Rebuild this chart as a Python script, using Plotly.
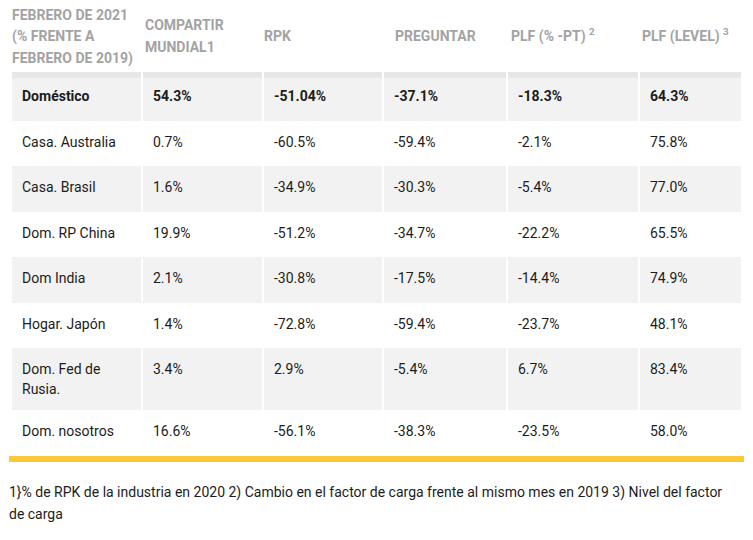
import plotly.graph_objects as go

# Contenido de la tabla (febrero 2021 vs febrero 2019)
columnas = ["FEBRERO DE 2021<br>(% FRENTE A<br>FEBRERO DE 2019)", "COMPARTIR<br>MUNDIAL1", "RPK",
            "PREGUNTAR", "PLF (% -PT) <sup>2</sup>", "PLF (LEVEL) <sup>3</sup>"]
mercados = ["Doméstico", "Casa. Australia", "Casa. Brasil", "Dom. RP China", "Dom India",
            "Hogar. Japón", "Dom. Fed de<br>Rusia.", "Dom. nosotros"]
compartir = ["54.3%", "0.7%", "1.6%", "19.9%", "2.1%", "1.4%", "3.4%", "16.6%"]
rpk = ["-51.04%", "-60.5%", "-34.9%", "-51.2%", "-30.8%", "-72.8%", "2.9%", "-56.1%"]
preguntar = ["-37.1%", "-59.4%", "-30.3%", "-34.7%", "-17.5%", "-59.4%", "-5.4%", "-38.3%"]
plf_pt = ["-18.3%", "-2.1%", "-5.4%", "-22.2%", "-14.4%", "-23.7%", "6.7%", "-23.5%"]
plf_level = ["64.3%", "75.8%", "77.0%", "65.5%", "74.9%", "48.1%", "83.4%", "58.0%"]
nota = ("1}% de RPK de la industria en 2020 2) Cambio en el factor de carga frente al mismo mes "
        "en 2019 3) Nivel del factor<br>de carga")

# layout, in page pixels: the html body keeps an 8px margin, so the
# figure is shrunk by it and the axis ranges start at 8
W, H, BODY = 753, 540, 8
col_edges = [11, 142, 263, 383, 507, 639, 742]
header_x = [12, 145, 264, 395, 511, 642]
PAD = 11
HEAD_MID, HEAD_LINE = 37.5, 21.5
BAND_TOP, BAND_H = 72, 6
ROW0, ROW_H, EXTRA_LINE, TEXT_OFF, LINE_H = 75, 45.5, 16, 22.5, 20
FOOT_X, FOOT_Y, FOOT_LINE = 9, 492, 22
FONT = "Roboto"
GRIS, NEGRO, AMARILLO = "#a3a3a3", "#1c1c1c", "#fbc935"

cuerpo = [mercados, compartir, rpk, preguntar, plf_pt, plf_level]

# row tops, taller row where the label wraps
nlines = [m.count("<br>") + 1 for m in mercados]
tops = []
t = ROW0
for n in nlines:
    tops.append(t)
    t += ROW_H + (n - 1) * EXTRA_LINE
bottom = t

fig = go.Figure()

# row backgrounds (band on top + zebra rows), white gaps between columns
y_edges = [BAND_TOP, BAND_TOP + BAND_H] + tops[1:] + [bottom]
z = [[2] * len(cuerpo)] + [[1 if i % 2 == 0 else 0] * len(cuerpo) for i in range(len(mercados))]
fig.add_trace(go.Heatmap(x=col_edges, y=y_edges, z=z, zmin=0, zmax=2,
                         colorscale=[[0, "#ffffff"], [0.5, "#f2f2f2"], [1, "#e7e7e7"]],
                         showscale=False, xgap=2, hoverinfo="skip"))

# header text, vertically centred
hx, hy, ht = [], [], []
for c, txt in enumerate(columnas):
    parts = txt.split("<br>")
    for j, p in enumerate(parts):
        hx.append(header_x[c])
        hy.append(HEAD_MID + (j - (len(parts) - 1) / 2) * HEAD_LINE)
        ht.append(p)
fig.add_trace(go.Scatter(x=hx, y=hy, text=ht, mode="text", textposition="middle right",
                         textfont=dict(family=FONT, size=14, color=GRIS, weight="bold"),
                         hoverinfo="skip", cliponaxis=False))

# body text: first row bold, the rest regular
def celdas(filas):
    xs, ys, ts = [], [], []
    for i in filas:
        for c, col in enumerate(cuerpo):
            for j, p in enumerate(col[i].split("<br>")):
                xs.append(col_edges[c] + PAD)
                ys.append(tops[i] + TEXT_OFF + j * LINE_H)
                ts.append(p)
    return xs, ys, ts

bx, by, bt = celdas([0])
fig.add_trace(go.Scatter(x=bx, y=by, text=bt, mode="text", textposition="middle right",
                         textfont=dict(family=FONT, size=14, color=NEGRO, weight="bold"),
                         hoverinfo="skip", cliponaxis=False))
rx, ry, rt = celdas(range(1, len(mercados)))
fig.add_trace(go.Scatter(x=rx, y=ry, text=rt, mode="text", textposition="middle right",
                         textfont=dict(family=FONT, size=14, color=NEGRO),
                         hoverinfo="skip", cliponaxis=False))

# yellow rule under the table
fig.add_shape(type="rect", x0=9, x1=744, y0=bottom + 1, y1=bottom + 7,
              fillcolor=AMARILLO, line_width=0, layer="above")

# footnote
for j, p in enumerate(nota.split("<br>")):
    fig.add_annotation(x=FOOT_X, y=FOOT_Y + j * FOOT_LINE, text=p, showarrow=False,
                       xanchor="left", yanchor="middle", xshift=-2,
                       font=dict(family=FONT, size=14, color=NEGRO))

fig.update_xaxes(range=[BODY, W - BODY], visible=False, fixedrange=True)
fig.update_yaxes(range=[H - BODY, BODY], visible=False, fixedrange=True)
fig.update_layout(width=W - 2 * BODY, height=H - 2 * BODY, margin=dict(l=0, r=0, t=0, b=0),
                  plot_bgcolor="white", paper_bgcolor="white",
                  showlegend=False, hovermode=False)

fig.write_html("out.html")
